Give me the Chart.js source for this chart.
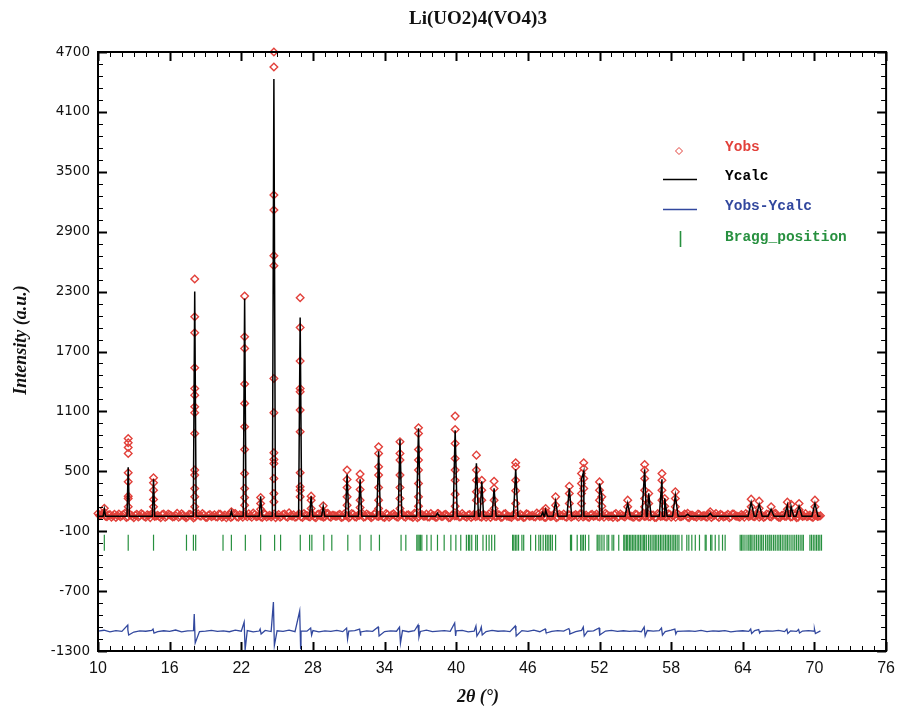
<!DOCTYPE html>
<html>
<head>
<meta charset="utf-8">
<title>Li(UO2)4(VO4)3</title>
<script src="https://cdn.jsdelivr.net/npm/chart.js@4.4.1/dist/chart.umd.min.js"></script>
<style>
  html, body { margin: 0; padding: 0; background: #fff; }
  #wrap { width: 903px; height: 712px; }
</style>
</head>
<body>
<div id="wrap"><canvas id="rietveld" width="903" height="712"></canvas></div>
<script>
const chartTitle = "Li(UO2)4(VO4)3";
const xTitle = "2θ (°)";
const yTitle = "Intensity (a.u.)";
const seriesNames = ["Yobs", "Ycalc", "Yobs-Ycalc", "Bragg_position"];

// axis ranges / tick steps
const xRange = [10, 76];
const yRange = [-1300, 4700];
const xStep = 6, yStep = 600;

// calculated pattern: peak centre, top of Ycalc, half width of the foot
const background = 50;
const peakPos = [10.53, 12.53, 14.65, 18.10, 21.17, 22.28, 23.62, 24.73, 26.93, 27.85, 28.86, 30.86, 31.95, 33.50, 35.29,
  36.84, 38.43, 39.91, 41.69, 42.14, 43.17, 44.98, 47.25, 47.49, 48.32, 49.47, 50.49, 50.68, 52.00, 52.19,
  54.36, 55.78, 56.12, 57.23, 57.46, 58.35, 59.38, 61.27, 64.70, 65.37, 66.37, 67.73, 68.04, 68.71, 70.04];
const calcTop = [120, 540, 420, 2300, 100, 2230, 250, 4430, 2040, 250, 150, 470, 420, 700, 820,
  930, 80, 910, 580, 400, 330, 520, 90, 110, 200, 330, 420, 500, 380, 260,
  180, 520, 280, 420, 230, 260, 70, 80, 190, 170, 120, 160, 150, 150, 180];
const peakHalfWidth = [0.10, 0.10, 0.10, 0.12, 0.10, 0.12, 0.12, 0.13, 0.13, 0.13, 0.13, 0.14, 0.14, 0.15, 0.15,
  0.16, 0.15, 0.17, 0.17, 0.15, 0.17, 0.19, 0.15, 0.15, 0.20, 0.20, 0.20, 0.20, 0.20, 0.20,
  0.22, 0.23, 0.20, 0.23, 0.20, 0.23, 0.20, 0.20, 0.25, 0.25, 0.25, 0.25, 0.22, 0.25, 0.25];

// observed background, read every 0.25 deg from 10 to 70.5 ...
const obsStart = 10, obsStep = 0.25;
const baselineObs = [
  78,62,70,45,66,52,38,72,55,80,44,63,35,70,52,66,40,58,74,47,
  60,36,71,50,64,42,57,39,75,48,45,68,33,62,54,77,41,59,46,65,
  43,69,51,34,66,47,78,40,56,71,44,53,82,46,61,37,70,52,42,73,
  55,41,68,47,84,50,39,64,45,76,58,43,62,36,72,51,46,80,40,60,
  49,70,42,61,35,78,46,57,66,40,73,52,44,81,47,63,37,67,53,75,
  44,58,72,39,65,48,79,36,62,51,71,43,57,41,76,47,64,52,38,69,
  56,43,77,48,61,37,70,53,45,66,40,74,55,47,68,38,72,50,44,63,
  76,47,58,41,70,52,44,82,48,63,37,67,51,78,43,57,72,40,62,49,
  68,39,76,52,45,63,48,71,42,58,79,44,53,67,37,73,49,62,54,43,
  71,42,57,47,80,44,63,38,68,52,46,74,41,59,77,45,54,66,36,61,
  47,72,44,58,40,67,52,78,37,62,48,69,45,73,51,41,57,76,46,63,
  44,68,52,38,73,47,61,79,41,58,50,67,43,71,36,62,48,76,53,45,
  60,47,55];
// ... and at the midpoints between them (10.125 to 70.375)
const midStart = 10.125;
const baselineObsMid = [
  58,74,49,63,41,70,56,45,67,38,72,51,60,43,77,48,64,36,69,53,
  47,66,39,73,55,44,79,50,61,35,70,57,42,75,49,63,38,68,52,44,
  71,40,62,53,37,76,46,65,41,58,74,39,67,50,45,79,43,60,55,36,
  68,49,73,40,57,64,44,71,37,62,48,78,42,66,53,39,74,47,60,51,
  63,38,75,52,46,69,41,58,80,45,61,36,72,49,57,43,76,40,65,54,
  39,71,47,62,53,37,74,45,68,50,42,77,56,40,64,48,70,36,59,52,
  73,44,60,39,67,51,46,79,41,63,55,37,72,48,61,43,76,50,38,66,
  45,69,38,74,50,59,42,66,53,40,77,47,62,36,70,55,44,68,41,57,
  52,75,43,61,38,70,56,47,73,40,64,51,37,78,46,59,42,67,53,39,
  66,41,72,50,44,63,37,76,48,57,42,70,54,39,65,47,73,43,60,51,
  40,64,53,46,75,38,61,49,70,43,58,36,73,52,45,67,41,62,55,48,
  71,39,58,47,66,42,74,51,37,63,48,69,44,57,40,76,52,45,61,38,
  59,50];

// observed points stacked on each peak
const stackPos = [10.53, 12.53, 14.65, 18.10, 21.17, 22.28, 23.62, 24.73, 26.93, 27.85, 28.86, 30.86, 31.95, 33.50, 35.29,
  36.84, 38.43, 39.91, 41.69, 42.14, 43.17, 44.98, 47.25, 47.49, 48.32, 49.47, 50.49, 50.68, 52.00, 52.19,
  54.36, 55.78, 56.12, 57.23, 57.46, 58.35, 59.38, 61.27, 64.70, 65.37, 66.37, 67.73, 68.04, 68.71, 70.04];
const stackVals = [
  [130, 90],
  [829, 786, 739, 679, 485, 395, 251, 228, 145],
  [435, 385, 311, 218, 145],
  [2426, 2048, 1888, 1537, 1330, 1263, 1146, 1086, 879, 512, 462, 328, 245, 145],
  [95],
  [2255, 1848, 1731, 1374, 1180, 946, 719, 478, 328, 238, 161],
  [238, 178, 120],
  [4700, 4550, 3267, 3117, 2660, 2560, 1430, 1086, 685, 619, 579, 428, 278, 195],
  [2239, 1941, 1604, 1330, 1297, 1113, 896, 485, 345, 311, 245],
  [251, 211, 128],
  [154, 100],
  [512, 418, 338, 244, 161],
  [472, 411, 318, 211, 138],
  [745, 679, 545, 462, 338, 211, 128],
  [796, 679, 612, 462, 338, 228, 128],
  [936, 879, 719, 612, 512, 378, 244, 151],
  [76],
  [1053, 919, 779, 629, 512, 411, 271, 151],
  [662, 512, 411, 295, 211],
  [411, 311, 211],
  [401, 328, 211, 128],
  [585, 545, 411, 305, 178],
  [100],
  [128, 95],
  [244, 161],
  [351, 278, 178],
  [478, 378, 278, 177],
  [585, 528, 428, 328],
  [394, 311, 211],
  [244, 150],
  [211, 144],
  [568, 511, 428, 311, 228, 144],
  [278, 177],
  [478, 411, 311, 211],
  [228, 150],
  [294, 228, 144],
  [80],
  [95],
  [221, 144],
  [201, 130],
  [144],
  [191, 120],
  [170],
  [177, 115],
  [211, 144]];

// difference curve: level every 0.5 deg, plus up/down spikes at peaks
const diffStart = 10, diffStep = 0.5;
const diffBase = [
  -1100,-1092,-1108,-1096,-1104,-1088,-1110,-1098,-1102,-1094,
  -1106,-1097,-1103,-1090,-1108,-1099,-1095,-1105,-1100,-1093,
  -1104,-1098,-1107,-1091,-1102,-1096,-1109,-1100,-1094,-1105,
  -1097,-1103,-1092,-1106,-1099,-1101,-1095,-1108,-1098,-1104,
  -1093,-1106,-1100,-1096,-1109,-1098,-1103,-1091,-1105,-1099,
  -1102,-1095,-1107,-1097,-1104,-1092,-1106,-1100,-1096,-1103,
  -1099,-1094,-1108,-1101,-1097,-1105,-1093,-1102,-1098,-1106,
  -1100,-1096,-1104,-1092,-1107,-1099,-1103,-1095,-1101,-1097,
  -1105,-1093,-1102,-1098,-1106,-1100,-1094,-1104,-1097,-1103,
  -1099,-1107,-1095,-1101,-1096,-1105,-1092,-1103,-1100,-1098,
  -1104,-1094,-1106,-1099,-1102,-1096,-1108,-1100,-1097,-1103,
  -1095,-1105,-1099,-1101,-1093,-1106,-1098,-1104,-1100,-1096,
  -1102,-1099];
const spikePos = [12.53, 14.65, 18.10, 22.28, 23.62, 24.73, 26.93, 27.85, 30.86, 31.95, 33.50, 35.29, 36.84, 39.91, 41.69,
  42.14, 44.98, 47.49, 49.47, 50.68, 52.00, 55.78, 57.23, 58.35, 64.70, 65.37, 67.73, 68.71, 70.04];
const spikeUp = [-1040, -1080, -930, -1010, -1080, -810, -900, -1070, -1070, -1080, -1060, -1060, -1040, -1020, -1050,
  -1060, -1050, -1080, -1075, -1060, -1070, -1060, -1070, -1080, -1080, -1085, -1080, -1085, -1080];
const spikeDown = [-1140, -1120, -1220, -1290, -1130, -1245, -1275, -1140, -1180, -1140, -1150, -1220, -1160, -1150, -1150,
  -1140, -1150, -1120, -1130, -1150, -1140, -1150, -1140, -1130, -1125, -1120, -1125, -1120, -1125];

// Bragg reflections
const braggLevel = -215;
const braggPos = [10.53, 12.53, 14.65, 17.41, 17.99, 18.18, 20.47, 21.17, 22.34, 23.62, 24.79, 25.29, 26.94, 27.72, 27.91,
  28.91, 29.58, 30.92, 31.95, 32.87, 33.57, 35.38, 35.78, 36.70, 36.80, 36.90, 37.00, 37.12, 37.54, 37.90,
  38.43, 38.99, 39.55, 39.97, 40.38, 40.85, 41.02, 41.13, 41.30, 41.63, 41.77, 42.24, 42.52, 42.75, 42.97,
  43.22, 44.72, 44.82, 44.95, 45.08, 45.22, 45.50, 45.65, 46.23, 46.65, 46.92, 47.07, 47.28, 47.48, 47.62,
  47.76, 47.90, 48.05, 48.32, 49.57, 49.66, 50.13, 50.42, 50.54, 50.66, 50.82, 51.10, 51.80, 51.88, 52.03,
  52.20, 52.38, 52.63, 52.77, 53.05, 53.19, 53.61, 54.03, 54.12, 54.25, 54.36, 54.50, 54.62, 54.75, 54.88,
  55.00, 55.15, 55.28, 55.42, 55.56, 55.70, 55.78, 55.92, 56.10, 56.25, 56.40, 56.55, 56.67, 56.80, 56.95,
  57.10, 57.23, 57.38, 57.52, 57.66, 57.79, 57.93, 58.08, 58.22, 58.35, 58.50, 58.65, 58.90, 59.31, 59.48,
  59.73, 60.02, 60.37, 60.85, 60.93, 61.30, 61.41, 61.69, 62.00, 62.30, 62.52, 63.78, 63.90, 64.02, 64.18,
  64.35, 64.50, 64.62, 64.70, 64.85, 65.00, 65.15, 65.30, 65.45, 65.58, 65.72, 65.90, 66.05, 66.20, 66.28,
  66.42, 66.58, 66.72, 66.88, 67.02, 67.15, 67.30, 67.45, 67.60, 67.73, 67.88, 68.04, 68.20, 68.35, 68.50,
  68.65, 68.80, 68.95, 69.07, 69.62, 69.75, 69.90, 70.04, 70.18, 70.32, 70.45, 70.59];

const colObs = "#e2403a", colCalc = "#000000", colDiff = "#32489e", colBragg = "#27903f";

// --- build point tables ---
const obsPoints = baselineObs.map((v, i) => ({ x: obsStart + i * obsStep, y: v }));
baselineObsMid.forEach((v, i) => obsPoints.push({ x: midStart + i * obsStep, y: v }));
stackPos.forEach((p, i) => stackVals[i].forEach(v => obsPoints.push({ x: p, y: v })));

let calcPoints = [{ x: 10, y: background }, { x: 70.5, y: background }];
peakPos.forEach((p, i) => {
  calcPoints.push({ x: p - peakHalfWidth[i], y: background }, { x: p, y: calcTop[i] }, { x: p + peakHalfWidth[i], y: background });
});
calcPoints.sort((a, b) => a.x - b.x);

let diffPoints = diffBase.map((v, i) => ({ x: diffStart + i * diffStep, y: v }));
spikePos.forEach((p, i) => {
  diffPoints.push({ x: p - 0.04, y: spikeUp[i] }, { x: p + 0.04, y: spikeDown[i] });
});
diffPoints.sort((a, b) => a.x - b.x);

const braggPoints = braggPos.map(p => ({ x: p, y: braggLevel }));

// frame, inward ticks, titles and legend
const decorations = {
  id: "decorations",
  afterDraw(chart) {
    const { ctx, chartArea: a, scales } = chart;
    const xs = scales.x, ys = scales.y;
    ctx.save();
    ctx.strokeStyle = "#000";

    for (let v = xRange[0]; v <= xRange[1]; v += 1) {
      const major = (v - xRange[0]) % xStep === 0;
      const px = Math.round(xs.getPixelForValue(v)) + 0.5;
      const len = major ? 9 : 5;
      ctx.lineWidth = major ? 2 : 1;
      ctx.beginPath();
      ctx.moveTo(px, a.bottom); ctx.lineTo(px, a.bottom - len);
      ctx.moveTo(px, a.top); ctx.lineTo(px, a.top + len);
      ctx.stroke();
    }
    for (let v = yRange[0]; v <= yRange[1]; v += yStep / 5) {
      const major = (v - yRange[0]) % yStep === 0;
      const py = Math.round(ys.getPixelForValue(v)) + 0.5;
      const len = major ? 9 : 5;
      ctx.lineWidth = major ? 2 : 1;
      ctx.beginPath();
      ctx.moveTo(a.left, py); ctx.lineTo(a.left + len, py);
      ctx.moveTo(a.right, py); ctx.lineTo(a.right - len, py);
      ctx.stroke();
    }
    ctx.lineWidth = 2;
    ctx.strokeRect(a.left, a.top, a.right - a.left, a.bottom - a.top);

    // titles
    ctx.fillStyle = "#111";
    ctx.textAlign = "center";
    ctx.textBaseline = "middle";
    ctx.font = 'bold 19px "Liberation Serif", serif';
    ctx.fillText(chartTitle, 478, 19);
    ctx.font = 'italic bold 18px "Liberation Serif", serif';
    ctx.fillText(xTitle, 478, 697);
    ctx.save();
    ctx.translate(21, 340);
    ctx.rotate(-Math.PI / 2);
    ctx.fillText(yTitle, 0, 0);
    ctx.restore();

    // legend
    const rows = [147, 176, 206, 237];
    const cols = [colObs, colCalc, colDiff, colBragg];
    ctx.font = 'bold 14.5px "Liberation Mono", monospace';
    ctx.textAlign = "left";
    chart.data.datasets.forEach(ds => {
      const idx = seriesNames.indexOf(ds.label);
      const y = rows[idx];
      ctx.fillStyle = cols[idx];
      ctx.fillText(ds.label, 725, y);
      ctx.strokeStyle = cols[idx];
      ctx.lineWidth = idx === 0 ? 1 : 1.6;
      ctx.beginPath();
      if (idx === 0) {
        const cx = 679, cy = y + 4, r = 3.5;
        ctx.moveTo(cx, cy - r); ctx.lineTo(cx + r, cy); ctx.lineTo(cx, cy + r); ctx.lineTo(cx - r, cy); ctx.closePath();
      } else if (idx === 3) {
        ctx.moveTo(680.5, y - 6); ctx.lineTo(680.5, y + 10);
      } else {
        ctx.moveTo(663, y + 3.5); ctx.lineTo(697, y + 3.5);
      }
      ctx.stroke();
    });
    ctx.restore();
  }
};

new Chart(document.getElementById("rietveld"), {
  type: "scatter",
  data: {
    datasets: [
      {
        label: seriesNames[1], data: calcPoints, showLine: true, pointRadius: 0,
        borderColor: colCalc, borderWidth: 1.5, order: 0
      },
      {
        label: seriesNames[0], data: obsPoints, pointStyle: "rectRot", pointRadius: 3.8,
        borderColor: colObs, backgroundColor: "rgba(0,0,0,0)", borderWidth: 1.4, order: 1, clip: false
      },
      {
        label: seriesNames[2], data: diffPoints, showLine: true, pointRadius: 0,
        borderColor: colDiff, borderWidth: 1.3, order: 2
      },
      {
        label: seriesNames[3], data: braggPoints, pointStyle: "line", rotation: 90, pointRadius: 8,
        borderColor: colBragg, borderWidth: 1.2, order: 3
      }
    ]
  },
  options: {
    responsive: false,
    devicePixelRatio: 1,
    animation: false,
    events: [],
    layout: { padding: { top: 52, right: 15, bottom: 0, left: 0 } },
    plugins: { legend: { display: false }, tooltip: { enabled: false }, title: { display: false } },
    scales: {
      x: {
        type: "linear", min: xRange[0], max: xRange[1],
        grid: { display: false, drawTicks: false }, border: { display: false },
        ticks: {
          stepSize: xStep, padding: 8, color: "#111",
          font: { family: '"Liberation Sans Narrow", "Liberation Sans", sans-serif', size: 16 },
          callback: v => String(v)
        },
        afterFit(scale) { scale.height = 61; }
      },
      y: {
        type: "linear", min: yRange[0], max: yRange[1],
        grid: { display: false, drawTicks: false }, border: { display: false },
        ticks: {
          stepSize: yStep, padding: 8, color: "#111",
          font: { family: '"DejaVu Sans", sans-serif', size: 13.5 },
          callback: v => String(v)
        },
        afterFit(scale) { scale.width = 98; }
      }
    }
  },
  plugins: [decorations]
});
</script>
</body>
</html>
